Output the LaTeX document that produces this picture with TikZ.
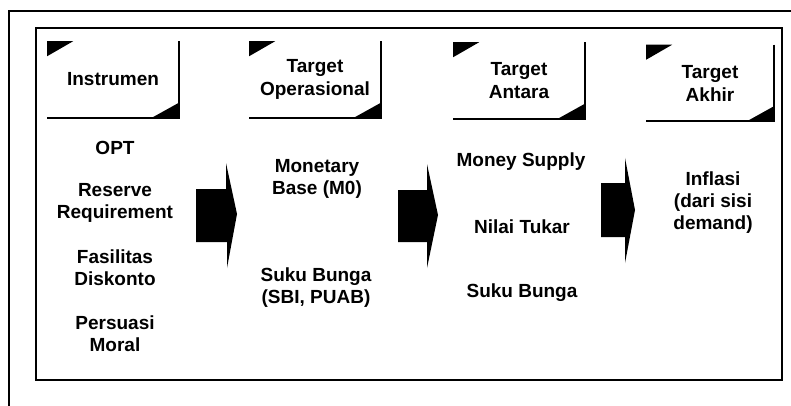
\documentclass[tikz,border=0pt]{standalone}
\usepackage{fontspec}
\setmainfont{Liberation Sans}
\begin{document}
\begin{tikzpicture}[x=1pt,y=-1pt,
  line width=1.6pt,
  head node/.style={rectangle,minimum width=130pt,minimum height=75pt,inner sep=0pt,align=center,font=\fontsize{19}{23}\selectfont\bfseries},
  item node/.style={align=center,inner sep=0pt,font=\fontsize{19}{22}\selectfont\bfseries}]

  \useasboundingbox (0,0) rectangle (791,406);
  \draw (9,406) -- (9,11) -- (791,11);
  \draw (36,28) rectangle (782,380);

  % header boxes
  \node[head node] (instr) at (113,79.5){Instrumen};
  \node[head node] (opers) at (315,79.5){Target\\Operasional};
  \node[head node] (antara) at (519,80.5){Target\\Antara};
  \node[head node,minimum width=126pt] (akhir) at (710,83){Target\\Akhir};

  \foreach \b in {instr,opers,antara,akhir}{
    \draw (\b.north east) -- (\b.south east) -- (\b.south west);
    \fill (\b.north west) -- ++(26,0) -- ++(-26,15) -- cycle;
    \fill (\b.south east) -- ++(0,-15) -- ++(-27,15) -- cycle;
  }

  % column items
  \node[item node] (opt) at (115,148){OPT};
  \node[item node] (rr) at (115,203){Reserve\\Requirement};
  \node[item node] (fd) at (115,268){Fasilitas\\Diskonto};
  \node[item node] (pm) at (115,334){Persuasi\\Moral};
  \node[item node] (mb) at (317,179){Monetary\\Base (M0)};
  \node[item node] (sb1) at (316,288){Suku Bunga\\(SBI, PUAB)};
  \node[item node] (ms) at (521,162){Money Supply};
  \node[item node] (nt) at (522,227){Nilai Tukar};
  \node[item node] (sb2) at (522,293){Suku Bunga};
  \node[item node] (inf) at (713,203){Inflasi\\(dari sisi\\demand)};

  % block arrows
  \fill (196,189) -- (226,189) -- (226,163) -- (237,214) -- (227,268) -- (227,242) -- (196,242) -- cycle;
  \fill (398,190) -- (427,190) -- (427,164) -- (438,215) -- (427,268) -- (427,242) -- (398,242) -- cycle;
  \fill (601,183) -- (625,183) -- (625,158) -- (635,210) -- (625,263) -- (625,237) -- (601,237) -- cycle;
\end{tikzpicture}
\end{document}
